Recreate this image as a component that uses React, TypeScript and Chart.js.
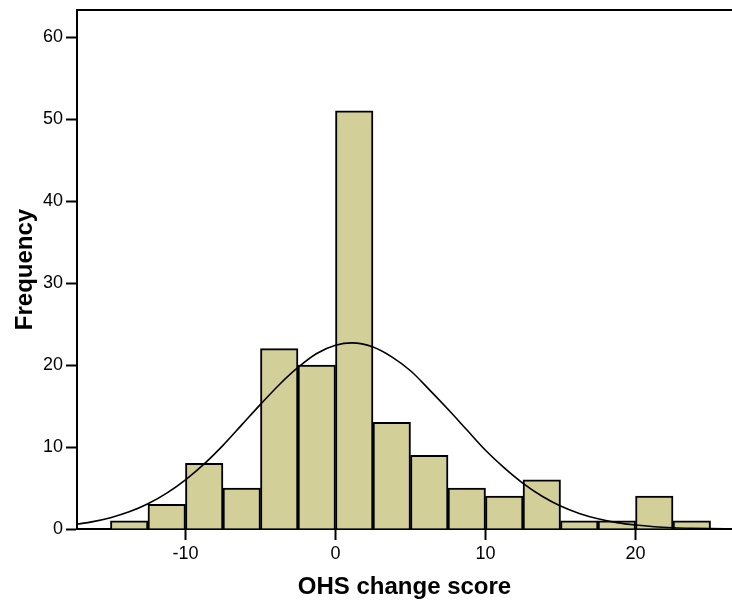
import React, { useEffect, useRef } from "react";
import { Chart, registerables } from "chart.js";

Chart.register(...registerables);

// Histogram bins (bin centres, width 2.5) and counts
const binCenters = [-13.75, -11.25, -8.75, -6.25, -3.75, -1.25, 1.25, 3.75, 6.25, 8.75, 11.25, 13.75, 16.25, 18.75, 21.25, 23.75];
const counts = [1, 3, 8, 5, 22, 20, 51, 13, 9, 5, 4, 6, 1, 1, 4, 1];

// Normal curve
const curveX = [-17.2, -16.25, -15, -13.75, -12.5, -11.25, -10, -8.75, -7.5, -6.25, -5, -3.75, -2.5, -1.25, 0, 1.1, 2.5, 3.75, 5, 6.25, 7.5, 8.75, 10, 11.25, 12.5, 13.75, 15, 16.25, 17.5, 18.75, 20, 21.25, 22.5, 23.75, 25, 26.4];
const curveY = [0.6, 0.87, 1.38, 2.09, 3.07, 4.37, 6.0, 7.94, 10.2, 12.7, 15.2, 17.6, 19.7, 21.4, 22.4, 22.7, 22.2, 21.0, 19.3, 17.0, 14.6, 12.1, 9.6, 7.45, 5.57, 4.03, 2.8, 1.9, 1.24, 0.78, 0.48, 0.28, 0.16, 0.09, 0.05, 0.02];

const xTicks = [-10, 0, 10, 20];
const yTicks = [0, 10, 20, 30, 40, 50, 60];
const xMin = -17.23;
const xMax = 26.43;
const yMax = 63.3;

const xTitle = "OHS change score";
const yTitle = "Frequency";

const topBorder = {
  id: "topBorder",
  afterDraw(chart: any) {
    const { ctx, chartArea } = chart;
    ctx.save();
    ctx.strokeStyle = "#000";
    ctx.lineWidth = 2;
    ctx.beginPath();
    ctx.moveTo(chartArea.left - 1, chartArea.top);
    ctx.lineTo(chartArea.right, chartArea.top);
    ctx.stroke();
    ctx.restore();
  },
};

export default function App() {
  const ref = useRef<HTMLCanvasElement | null>(null);
  useEffect(() => {
    if (!ref.current) return;
    const tickFont = { family: "'Liberation Sans', Arial, sans-serif", size: 18 };
    const titleFont = { family: "'Liberation Sans', Arial, sans-serif", size: 24, weight: "bold" as const };
    const chart = new Chart(ref.current, {
      type: "bar",
      data: {
        datasets: [
          {
            type: "line" as const,
            data: curveX.map((x, i) => ({ x, y: curveY[i] })),
            borderColor: "#000",
            borderWidth: 1.6,
            pointRadius: 0,
            fill: false,
            cubicInterpolationMode: "monotone" as const,
            order: 0,
          },
          {
            type: "bar" as const,
            data: binCenters.map((x, i) => ({ x, y: counts[i] })),
            backgroundColor: "rgb(211,207,153)",
            borderColor: "#000",
            borderWidth: 2,
            barPercentage: 1,
            categoryPercentage: 1,
            order: 1,
          },
        ],
      } as any,
      options: {
        animation: false,
        responsive: false,
        maintainAspectRatio: false,
        layout: { padding: { top: 10, right: 0, left: 0, bottom: 0 } },
        plugins: { legend: { display: false }, tooltip: { enabled: false } },
        scales: {
          x: {
            type: "linear",
            min: xMin,
            max: xMax,
            offset: false,
            afterBuildTicks: (scale: any) => {
              scale.ticks = xTicks.map((v) => ({ value: v }));
            },
            afterFit: (scale: any) => {
              scale.height = 78;
              scale.paddingLeft = 0;
              scale.paddingRight = 0;
            },
            ticks: { color: "#000", font: tickFont, padding: 3, maxRotation: 0 },
            grid: { display: true, offset: false, drawOnChartArea: false, drawTicks: true, tickLength: 11, tickWidth: 2, tickColor: "#000" },
            border: { display: true, color: "#000", width: 2 },
            title: { display: true, text: xTitle, color: "#000", font: titleFont, padding: { top: 0, bottom: 5 } },
          },
          y: {
            type: "linear",
            min: 0,
            max: yMax,
            afterBuildTicks: (scale: any) => {
              scale.ticks = yTicks.map((v) => ({ value: v }));
            },
            afterFit: (scale: any) => {
              scale.width = 77;
              scale.paddingTop = 0;
              scale.paddingBottom = 0;
            },
            ticks: { color: "#000", font: tickFont, padding: 3 },
            grid: { display: true, drawOnChartArea: false, drawTicks: true, tickLength: 11, tickWidth: 2, tickColor: "#000" },
            border: { display: true, color: "#000", width: 2 },
            title: { display: true, text: yTitle, color: "#000", font: titleFont, padding: { top: 11, bottom: 0 } },
          },
        },
      } as any,
      plugins: [topBorder],
    });
    return () => chart.destroy();
  }, []);
  return (
    <div style={{ position: "fixed", left: 0, top: 0, width: 732, height: 607, background: "#fff" }}>
      <canvas ref={ref} width={732} height={607} style={{ display: "block" }} />
    </div>
  );
}
